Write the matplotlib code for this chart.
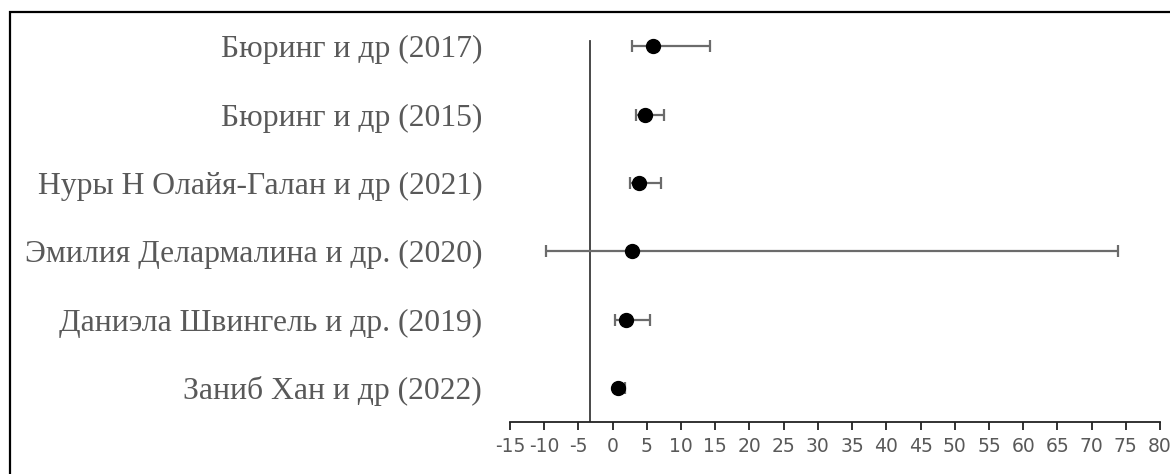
import matplotlib.pyplot as plt
from matplotlib.patches import Rectangle

studies = [
    'Бюринг и др (2017)',
    'Бюринг и др (2015)',
    'Нуры Н Олайя-Галан и др (2021)',
    'Эмилия Делармалина и др. (2020)',
    'Даниэла Швингель и др. (2019)',
    'Заниб Хан и др (2022)',
]
estimate = [5.9, 4.8, 3.9, 2.8, 1.9, 0.8]
ci_low = [2.9, 3.4, 2.5, -9.7, 0.4, 0.5]
ci_high = [14.2, 7.5, 7.0, 73.9, 5.5, 1.8]
ref_x = -3.3
xticks = list(range(-15, 81, 5))

fig = plt.figure(figsize=(11.7, 4.74), dpi=100)
ax = fig.add_axes([510 / 1170, 52 / 474, 650 / 1170, 410 / 474])

ypos = list(range(len(studies), 0, -1))
err_lo = [e - l for e, l in zip(estimate, ci_low)]
err_hi = [h - e for e, h in zip(estimate, ci_high)]

ax.errorbar(estimate, ypos, xerr=[err_lo, err_hi], fmt='none',
            ecolor='#6b6b6b', elinewidth=1.6, capsize=4, capthick=1.6, zorder=2)
ax.plot(estimate, ypos, 'o', color='black', markersize=10, zorder=3)
ax.axvline(ref_x, ymin=0, ymax=0.93, color='#3a3a3a', lw=1.3, zorder=1)

ax.set_xlim(-15, 80)
ax.set_ylim(0.5, len(studies) + 0.5)
ax.set_xticks(xticks)
ax.set_xticklabels([str(t) for t in xticks], family=['Liberation Sans Narrow', 'DejaVu Sans'],
                   fontsize=13.5, color='#595959')
ax.set_yticks(ypos)
ax.set_yticklabels(studies, family=['Liberation Serif', 'DejaVu Serif'],
                   fontsize=22.8, color='#595959')
ax.tick_params(axis='y', length=0, pad=20)
ax.tick_params(axis='x', direction='out', length=6, width=1.3, color='#222222', pad=5)

for side in ['top', 'right', 'left']:
    ax.spines[side].set_visible(False)
ax.spines['bottom'].set_linewidth(1.3)
ax.spines['bottom'].set_color('#222222')

fig.patches.append(Rectangle((9.5 / 1170, -0.1), 1.2, 1 - 12.5 / 474 + 0.1,
                             transform=fig.transFigure, fill=False,
                             edgecolor='black', linewidth=1.6))

fig.savefig('out.png', dpi=100)
